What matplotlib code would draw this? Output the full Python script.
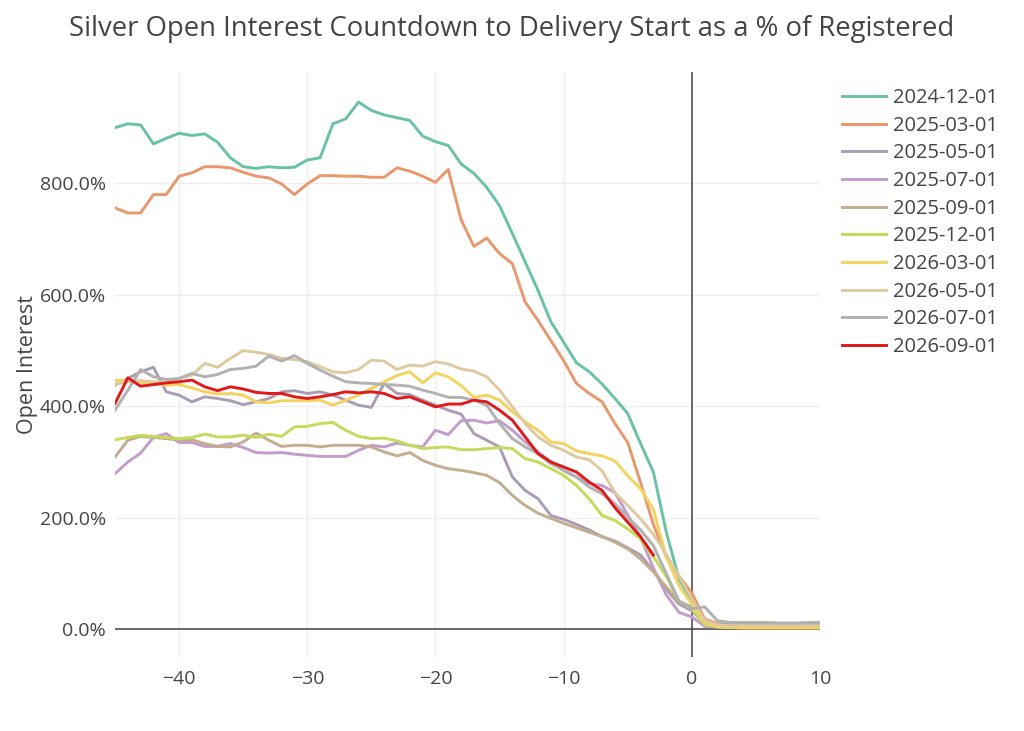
import matplotlib
matplotlib.use("Agg")
import matplotlib.pyplot as plt
import numpy as np

plt.rcParams['font.family'] = ['Open Sans', 'DejaVu Sans']

days = list(range(-45, 11))

s_2024_12 = [900, 907, 905, 871, 881, 890, 886, 889, 874, 846,
             830, 827, 830, 828, 829, 842, 846, 907, 916, 946,
             931, 923, 918, 913, 885, 875, 868, 835, 818, 793,
             760, 710, 659, 608, 552, 515, 478, 462, 440, 414,
             387, 333, 282, 175, 90, 48, 10, 6, 5, 5,
             5, 5, 5, 5, 6, 6]
s_2025_03 = [756, 747, 747, 780, 780, 813, 819, 830, 830, 828,
             820, 813, 810, 799, 780, 799, 814, 814, 813, 813,
             811, 811, 828, 822, 813, 802, 825, 735, 687, 702,
             674, 656, 587, 554, 518, 482, 441, 423, 408, 369,
             335, 263, 188, 130, 95, 65, 18, 10, 8, 8,
             8, 8, 7, 7, 8, 8]
s_2025_05 = [438, 450, 462, 470, 426, 420, 408, 417, 414, 410,
             403, 408, 414, 426, 428, 423, 426, 420, 411, 402,
             398, 441, 423, 421, 411, 402, 393, 386, 351, 339,
             327, 273, 249, 234, 204, 197, 188, 178, 166, 158,
             146, 133, 105, 72, 45, 33, 10, 9, 9, 9,
             9, 9, 10, 9, 10, 10]
s_2025_07 = [279, 300, 316, 344, 351, 335, 335, 328, 328, 333,
             326, 317, 316, 317, 314, 312, 310, 310, 310, 321,
             330, 327, 334, 330, 327, 357, 349, 374, 375, 370,
             374, 357, 336, 318, 300, 285, 273, 261, 258, 245,
             205, 165, 110, 62, 30, 22, 5, 4, 4, 4,
             4, 4, 4, 4, 4, 4]
s_2025_09 = [309, 339, 346, 344, 342, 339, 340, 333, 328, 327,
             336, 352, 339, 328, 330, 330, 327, 330, 330, 330,
             327, 318, 311, 317, 303, 294, 288, 285, 281, 276,
             263, 240, 222, 208, 199, 190, 182, 174, 166, 156,
             144, 126, 103, 76, 50, 40, 8, 6, 6, 6,
             6, 6, 6, 6, 6, 6]
s_2025_12 = [340, 344, 348, 346, 344, 342, 344, 350, 345, 345,
             348, 344, 350, 346, 363, 364, 369, 371, 357, 346,
             342, 343, 338, 330, 324, 326, 327, 322, 322, 324,
             326, 324, 306, 300, 288, 276, 258, 234, 204, 195,
             180, 162, 130, 95, 50, 37, 8, 4, 3, 3,
             3, 3, 3, 3, 3, 3]
s_2026_03 = [447, 445, 443, 440, 438, 439, 433, 426, 422, 423,
             420, 408, 406, 410, 410, 410, 411, 402, 411, 420,
             432, 444, 455, 462, 442, 460, 453, 437, 416, 420,
             411, 390, 372, 357, 336, 333, 320, 315, 311, 302,
             275, 252, 215, 130, 78, 45, 12, 4, 3, 2,
             2, 2, 2, 2, 2, 2]
s_2026_05 = [440, 444, 446, 444, 443, 450, 456, 477, 470, 486,
             500, 497, 493, 486, 484, 480, 471, 462, 460, 466,
             483, 481, 466, 474, 472, 480, 476, 467, 463, 453,
             429, 399, 369, 345, 330, 321, 309, 304, 284, 245,
             222, 198, 170, 135, 95, 55, 15, 8, 6, 6,
             6, 6, 6, 6, 6, 6]
s_2026_07 = [393, 429, 466, 453, 448, 450, 459, 453, 457, 466,
             468, 472, 490, 481, 491, 477, 465, 454, 444, 442,
             441, 439, 438, 436, 429, 423, 416, 416, 411, 402,
             369, 342, 327, 315, 297, 285, 273, 255, 243, 225,
             201, 178, 150, 100, 50, 37, 40, 15, 12, 12,
             12, 12, 11, 11, 12, 12]
s_2026_09 = [405, 451, 436, 439, 442, 444, 447, 435, 428, 435,
             431, 425, 423, 423, 417, 414, 417, 421, 426, 424,
             426, 423, 414, 417, 408, 399, 404, 404, 411, 408,
             393, 375, 345, 315, 300, 291, 282, 264, 249, 218,
             192, 166, 133]

labels = ['2024-12-01', '2025-03-01', '2025-05-01', '2025-07-01', '2025-09-01',
          '2025-12-01', '2026-03-01', '2026-05-01', '2026-07-01', '2026-09-01']
series = [s_2024_12, s_2025_03, s_2025_05, s_2025_07, s_2025_09,
          s_2025_12, s_2026_03, s_2026_05, s_2026_07, s_2026_09]
colors = ['#68c3a4', '#e9976c', '#aa9cb5', '#c39ccb', '#c3ad8e',
          '#c3db5b', '#f3d360', '#dfca9f', '#b1b1b1', '#e0191b']

fig = plt.figure(figsize=(10.24, 7.31), dpi=100)
ax = fig.add_axes([115/1024, 1-657/731, (820-115)/1024, (657-72)/731])

for lab, vals, col in zip(labels, series, colors):
    x = days[:len(vals)]
    ax.plot(x, vals, color=col, lw=2.1, label=lab, solid_joinstyle='round')

ax.set_xlim(-45, 10)
ax.set_ylim(-50, 1000)
ax.set_xticks([-40, -30, -20, -10, 0, 10])
ax.set_yticks([0, 200, 400, 600, 800])
ax.set_yticklabels([f"{v:.1f}%" for v in [0, 200, 400, 600, 800]])
ax.grid(True, color='#eeeeee', lw=1)
ax.set_axisbelow(True)
for sp in ax.spines.values():
    sp.set_visible(False)
ax.axhline(0, color='#444444', lw=1.1, zorder=1.5)
ax.axvline(0, color='#444444', lw=1.1, zorder=1.5)
ax.tick_params(length=0, labelsize=14, colors='#444444')
ax.tick_params(axis='y', pad=6.5)
ax.tick_params(axis='x', pad=9)
ax.set_ylabel('Open Interest', fontsize=15.5, color='#444444', labelpad=1)

fig.suptitle('Silver Open Interest Countdown to Delivery Start as a % of Registered',
             fontsize=19.8, color='#444444', x=512/1024, y=1-29/731, va='center')

leg = ax.legend(loc='upper left', bbox_to_anchor=(842/1024, 1-88/731),
                bbox_transform=fig.transFigure, frameon=False, fontsize=14.5,
                handlelength=2.2, handletextpad=0.35, labelspacing=0.38,
                borderaxespad=0, borderpad=0)
for t in leg.get_texts():
    t.set_color('#444444')

fig.savefig('out.png', dpi=100)
